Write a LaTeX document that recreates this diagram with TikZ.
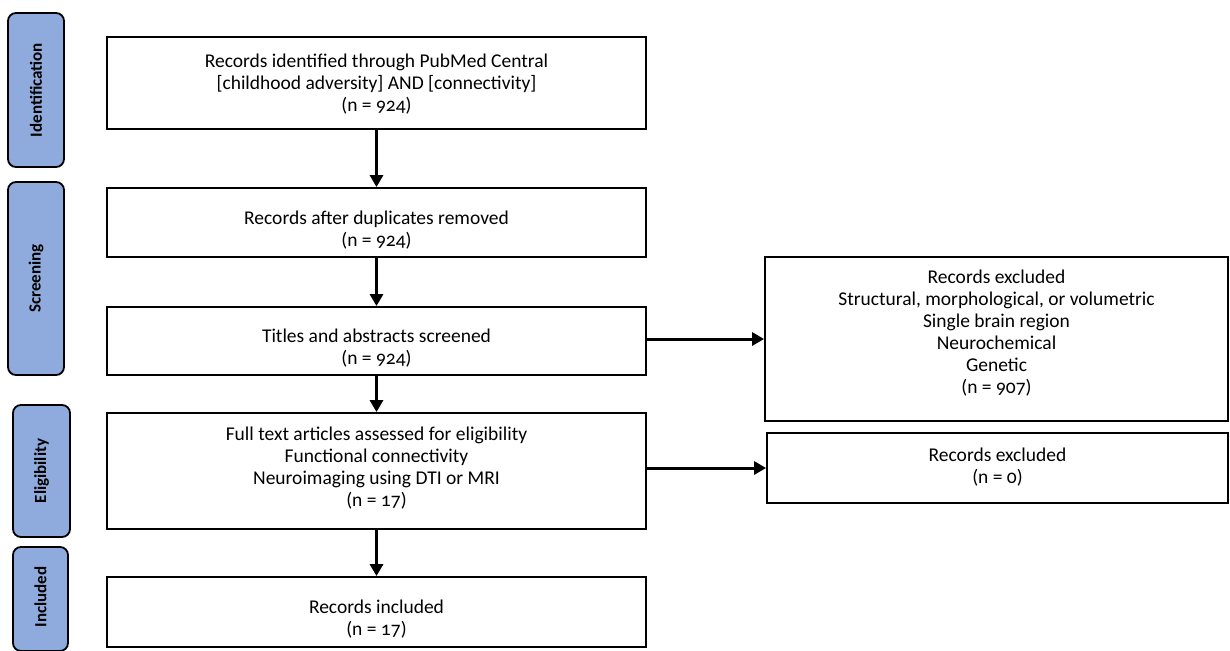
\documentclass[tikz,border=0pt]{standalone}
\usepackage{fontspec}
\setmainfont{Carlito}[Numbers=OldStyle]
\usetikzlibrary{arrows.meta}
\definecolor{phase}{RGB}{143,170,220}
\begin{document}
\begin{tikzpicture}[x=1pt,y=-1pt,
  flowbox/.style={draw=black,line width=1.8pt,rectangle,inner sep=0pt},
  flowtext/.style={align=center,inner sep=0pt,font=\fontsize{19.5}{22}\selectfont},
  phasebox/.style={draw=black,line width=1.8pt,fill=phase,rounded corners=8pt,
    inner sep=0pt},
  phasetext/.style={rotate=90,inner sep=0pt,font=\fontsize{17}{19}\selectfont\bfseries},
  flowarrow/.style={line width=3pt,-{Triangle[length=12pt,width=13pt]}}]
\useasboundingbox (0,0) rectangle (1230,650);
% phase labels
\node[phasebox,minimum width=56pt,minimum height=154pt] (ident) at (36,90) {};
\node[phasetext] (identt) at (ident.center) {Identification};
\node[phasebox,minimum width=56pt,minimum height=193pt] (screen) at (36,278.5) {};
\node[phasetext] (screent) at (screen.center) {Screening};
\node[phasebox,minimum width=57pt,minimum height=132pt] (elig) at (41.5,471) {};
\node[phasetext] (eligt) at (elig.center) {Eligibility};
\node[phasebox,minimum width=55pt,minimum height=104pt] (incl) at (40.5,599) {};
\node[phasetext] (inclt) at (40.5,597) {Included};
% main flow boxes
\node[flowbox,minimum width=539pt,minimum height=92pt] (b1) at (376.5,83) {};
\node[flowbox,minimum width=539pt,minimum height=69pt] (b2) at (376.5,222.5) {};
\node[flowbox,minimum width=539pt,minimum height=68pt] (b3) at (376.5,341) {};
\node[flowbox,minimum width=539pt,minimum height=116pt] (b4) at (376.5,471) {};
\node[flowbox,minimum width=539pt,minimum height=70pt] (b5) at (376.5,612) {};
\node[flowbox,minimum width=463pt,minimum height=164pt] (r1) at (996.5,339) {};
\node[flowbox,minimum width=461pt,minimum height=70pt] (r2) at (997.5,468) {};
% texts
\node[flowtext] (b1t) at (376.5,84)
  {Records identified through PubMed Central\\{[childhood adversity] AND [connectivity]}\\(n = 924)};
\node[flowtext] (b2t) at (376.5,230)
  {Records after duplicates removed\\(n = 924)};
\node[flowtext] (b3t) at (376.5,348)
  {Titles and abstracts screened\\(n = 924)};
\node[flowtext] (b4t) at (376.5,468)
  {Full text articles assessed for eligibility\\Functional connectivity\\Neuroimaging using DTI or MRI\\(n = 17)};
\node[flowtext] (b5t) at (376.5,619)
  {Records included\\(n = 17)};
\node[flowtext] (r1t) at (996.5,333)
  {Records excluded\\Structural, morphological, or volumetric\\Single brain region\\Neurochemical\\Genetic\\(n = 907)};
\node[flowtext] (r2t) at (997.5,467)
  {Records excluded\\(n = 0)};
% arrows
\draw[flowarrow] (b1) -- (b2);
\draw[flowarrow] (b2) -- (b3);
\draw[flowarrow] (b3) -- (b4);
\draw[flowarrow] (b4) -- (b5);
\draw[flowarrow] (b3.east |- r1) -- (r1.west);
\draw[flowarrow] (b4.east |- r2) -- (r2.west);
\end{tikzpicture}
\end{document}
